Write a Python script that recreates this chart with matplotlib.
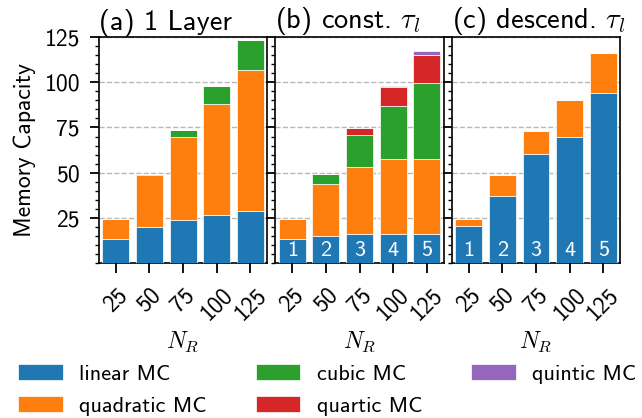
import numpy as np
import matplotlib.pyplot as plt
from matplotlib.ticker import MultipleLocator

plt.rcParams['font.family'] = 'cmss10'
plt.rcParams['mathtext.fontset'] = 'cm'
plt.rcParams['font.size'] = 17

n_res = [25, 50, 75, 100, 125]
titles = ['(a) 1 Layer', r'(b) const. $\tau_l$', r'(c) descend. $\tau_l$']
labels = ['linear MC', 'quadratic MC', 'cubic MC', 'quartic MC', 'quintic MC']
colors = ['#1f77b4', '#ff7f0e', '#2ca02c', '#d62728', '#9467bd']

# MC contributions per order
one_layer = [
    [13.5, 20.0, 23.5, 26.6, 28.8],
    [10.8, 28.5, 46.5, 61.6, 78.2],
    [0.0, 0.5, 3.4, 9.9, 16.3],
    [0.0, 0.0, 0.0, 0.0, 0.0],
    [0.0, 0.0, 0.0, 0.0, 0.0],
]
const_tau = [
    [13.5, 15.0, 16.0, 16.0, 16.0],
    [10.8, 28.6, 37.2, 41.8, 41.8],
    [0.0, 5.7, 17.4, 29.3, 41.6],
    [0.0, 0.0, 3.9, 10.1, 15.8],
    [0.0, 0.0, 0.0, 0.8, 2.0],
]
descend_tau = [
    [20.5, 37.0, 60.5, 69.5, 94.3],
    [3.9, 11.8, 12.7, 20.5, 22.0],
    [0.0, 0.0, 0.0, 0.0, 0.0],
    [0.0, 0.0, 0.0, 0.0, 0.0],
    [0.0, 0.0, 0.0, 0.0, 0.0],
]
layers = ['1', '2', '3', '4', '5']

fig, axes = plt.subplots(1, 3, figsize=(6.42, 4.18), dpi=100, sharey=True)
fig.subplots_adjust(left=0.154, right=0.966, top=0.911, bottom=0.371, wspace=0.048)

x = np.arange(len(n_res))
for i, (ax, data) in enumerate(zip(axes, [one_layer, const_tau, descend_tau])):
    bottom = np.zeros(len(n_res))
    for k, vals in enumerate(data):
        vals = np.array(vals)
        ax.bar(x, vals, 0.8, bottom=bottom, color=colors[k], edgecolor='white',
               linewidth=0.5, label=labels[k], zorder=3)
        bottom += vals
    if i > 0:
        for xi, t in zip(x, layers):
            ax.text(xi, 1.8, t, color='white', ha='center', va='bottom',
                    fontsize=16, zorder=4)
    ax.set_title(titles[i], loc='left', pad=2)
    ax.set_xticks(x)
    ax.set_xticklabels(n_res, rotation=45, ha='center')
    ax.set_xlabel(r'$N_R$', fontsize=17, labelpad=4)
    ax.set_ylim(0, 125)
    ax.set_xlim(-0.5, 4.5)
    ax.yaxis.set_major_locator(MultipleLocator(25))
    ax.yaxis.set_minor_locator(MultipleLocator(5))
    ax.tick_params(axis='y', which='major', length=6.5, width=1.3, pad=7)
    ax.tick_params(axis='y', which='minor', length=3, width=1.0)
    ax.tick_params(axis='x', length=7, width=1.3, pad=8)
    ax.grid(axis='y', linestyle='--', color='#b8b8b8', linewidth=1.0, zorder=0)
    for s in ax.spines.values():
        s.set_linewidth(1.2)

axes[0].set_yticks([25, 50, 75, 100, 125])
axes[0].set_ylabel('Memory Capacity', labelpad=6)

handles, labs = axes[1].get_legend_handles_labels()
fig.legend(handles, labs, loc='lower center', ncol=3, frameon=False,
           bbox_to_anchor=(0.51, -0.042), handlelength=2.0, handleheight=0.7,
           handletextpad=0.75, columnspacing=2.2, labelspacing=0.55, fontsize=16)

plt.savefig('out.png', dpi=100)
